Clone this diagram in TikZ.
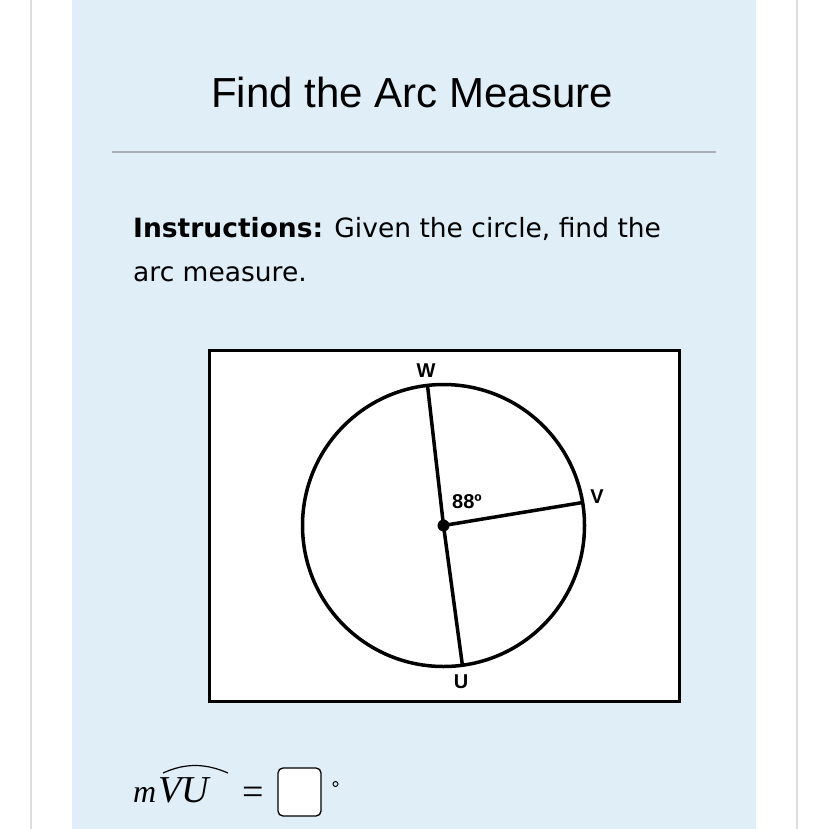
\documentclass[tikz,border=0pt]{standalone}
\usepackage{fontspec}
\setmainfont{Liberation Sans}
\newfontfamily\timesf{Liberation Serif}
\newfontfamily\insf{DejaVu Sans}
\definecolor{panel}{RGB}{224,239,247}
\definecolor{rulegray}{RGB}{170,176,181}
\definecolor{edgegray}{RGB}{221,221,221}
\tikzset{
  lbl/.style={font=\bfseries\fontsize{20}{21}\selectfont, inner sep=0pt},
  ray/.style={line width=3.5pt},
}
\begin{document}
\begin{tikzpicture}[x=1pt,y=-1pt]
\useasboundingbox (0,0) rectangle (828,829);
\fill[white] (0,0) rectangle (828,829);
\fill[panel] (72,0) rectangle (756,829);
\draw[edgegray, line width=1.5pt] (31,0) -- (31,829);
\draw[edgegray, line width=1.5pt] (797,0) -- (797,829);
\node[anchor=base, inner sep=0pt, font=\fontsize{42}{50}\selectfont] (title) at (412,108) {Find the Arc Measure};
\draw[rulegray, line width=2pt] (112,152) -- (716,152);
\node[anchor=base west, inner sep=0pt, font=\insf\fontsize{26.5}{30}\selectfont] (ins1) at (133,237) {\textbf{Instructions:} Given the circle, find the};
\node[anchor=base west, inner sep=0pt, font=\insf\fontsize{26.5}{30}\selectfont] (ins2) at (133,281) {arc measure.};
% figure box
\draw[line width=3pt, fill=white] (209,350) rectangle (679,701);
\coordinate (O) at (443.5,525.5);
\draw[line width=3.5pt] (O) circle (141);
\path (O) ++(-16,-140) coordinate (W);
\path (O) ++(139,-23) coordinate (V);
\path (O) ++(19,140.5) coordinate (U);
\draw[ray] (W) -- (O);
\draw[ray] (O) -- (V);
\draw[ray] (O) -- (U);
\fill (O) circle (6);
\node[lbl] (lw) at (426,371) {W};
\node[lbl] (lv) at (597,497) {V};
\node[lbl] (lu) at (461,682) {U};
\node[lbl] (ang) at (467,502) {88º};
% bottom expression
\node[anchor=base west, inner sep=0pt, font=\timesf\itshape\fontsize{32}{36}\selectfont] (m) at (133,802) {m};
\node[anchor=base west, inner sep=0pt, font=\timesf\itshape\fontsize{38}{40}\selectfont] (vu) at (158,802) {VU};
\draw[line width=1.2pt] (163,773) .. controls (185,763) and (205,763) .. (228,773);
\node[anchor=base, inner sep=0pt, font=\timesf\fontsize{38}{40}\selectfont] (eq) at (253,804) {=};
\draw[line width=1.3pt, fill=white, rounded corners=5pt] (278,768) rectangle (321,816);
\draw[line width=1pt] (335.5,784) circle (2.5);
\end{tikzpicture}
\end{document}
